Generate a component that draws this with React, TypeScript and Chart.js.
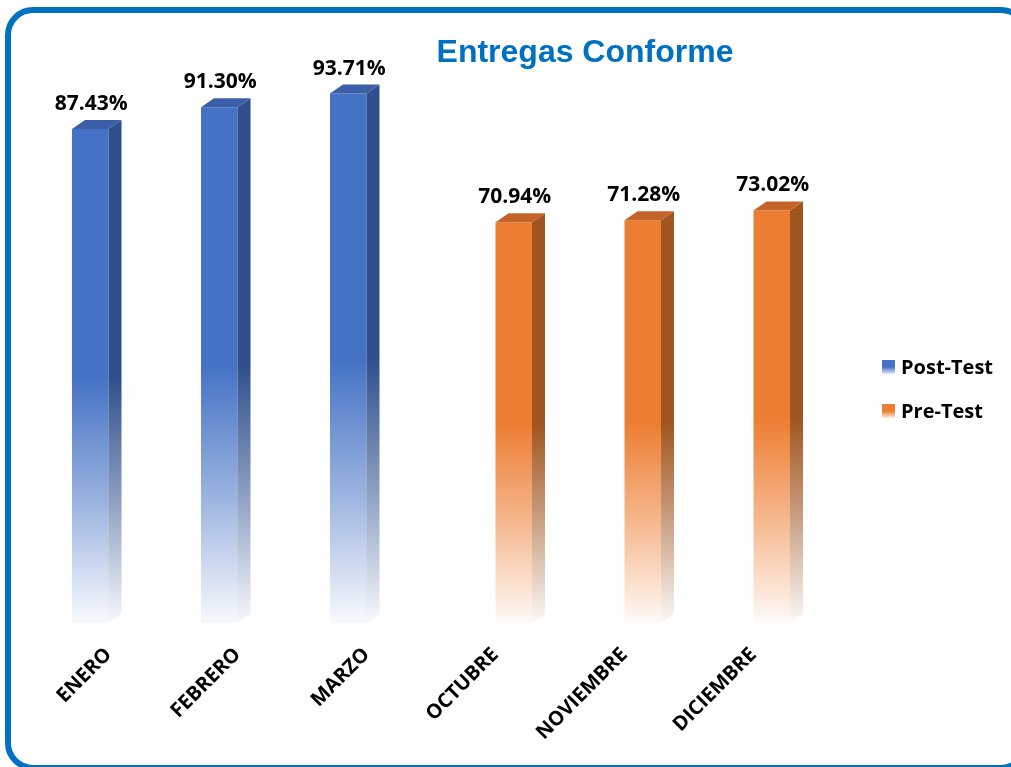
import React, { useEffect, useRef } from "react";
import { Chart, registerables } from "chart.js";

Chart.register(...registerables);

const categories = ["ENERO", "FEBRERO", "MARZO", "OCTUBRE", "NOVIEMBRE", "DICIEMBRE"];
const postTest = [87.43, 91.3, 93.71, null, null, null];
const preTest = [null, null, null, 70.94, 71.28, 73.02];
const seriesNames = ["Post-Test", "Pre-Test"];
const titleText = "Entregas Conforme";

const palette = [
  { front: "#4472C4", side: "#2F4F8C", top: "#3A5EA8", rgb: "68,114,196", sideRgb: "47,79,140" },
  { front: "#ED7D31", side: "#A0541F", top: "#C4642A", rgb: "237,125,49", sideRgb: "160,84,31" },
];

const DX = 13;
const DY = 9;
const FONT = "'Open Sans', 'Noto Sans', sans-serif";

function fadeGradient(c: CanvasRenderingContext2D, top: number, base: number, rgb: string) {
  const g = c.createLinearGradient(0, top, 0, base);
  g.addColorStop(0, `rgba(${rgb},1)`);
  g.addColorStop(0.5, `rgba(${rgb},1)`);
  g.addColorStop(0.75, `rgba(${rgb},0.55)`);
  g.addColorStop(0.96, `rgba(${rgb},0.12)`);
  g.addColorStop(1, `rgba(${rgb},0.04)`);
  return g;
}

const bar3d = {
  id: "bar3d",
  afterDatasetsDraw(chart: any) {
    const c: CanvasRenderingContext2D = chart.ctx;
    chart.data.datasets.forEach((ds: any, di: number) => {
      const meta = chart.getDatasetMeta(di);
      const pal = palette[di];
      meta.data.forEach((el: any, i: number) => {
        const v = ds.data[i];
        if (v == null) return;
        const { x, y, base, width } = el.getProps(["x", "y", "base", "width"], true);
        const L = x - width / 2;
        const R = x + width / 2;
        c.save();
        c.beginPath();
        c.moveTo(R, y);
        c.lineTo(R + DX, y - DY);
        c.lineTo(R + DX, base - DY);
        c.lineTo(R, base);
        c.closePath();
        c.fillStyle = fadeGradient(c, y, base, pal.sideRgb);
        c.fill();
        c.beginPath();
        c.moveTo(L, y);
        c.lineTo(R, y);
        c.lineTo(R + DX, y - DY);
        c.lineTo(L + DX, y - DY);
        c.closePath();
        c.fillStyle = pal.top;
        c.fill();
        c.fillStyle = "#000000";
        c.font = `bold 21px ${FONT}`;
        c.textAlign = "center";
        c.textBaseline = "alphabetic";
        c.fillText(v.toFixed(2) + "%", x + 1, y - 19);
        c.restore();
      });
    });
  },
};

const titleAndLegend = {
  id: "titleAndLegend",
  afterDraw(chart: any) {
    const c: CanvasRenderingContext2D = chart.ctx;
    c.save();
    c.fillStyle = "#0070C0";
    c.font = "bold 32px 'Liberation Sans', Arial, sans-serif";
    c.textAlign = "center";
    c.textBaseline = "alphabetic";
    c.fillText(titleText, 585, 62);

    const rows = [367, 411];
    chart.data.datasets.forEach((ds: any, di: number) => {
      const pal = palette[di];
      const cy = rows[di];
      const g = c.createLinearGradient(0, cy - 7, 0, cy + 7);
      g.addColorStop(0, `rgba(${pal.rgb},1)`);
      g.addColorStop(0.5, `rgba(${pal.rgb},1)`);
      g.addColorStop(1, `rgba(${pal.rgb},0.15)`);
      c.fillStyle = g;
      c.fillRect(882, cy - 7, 13, 14);
      c.fillStyle = "#000000";
      c.font = `bold 20px ${FONT}`;
      c.textAlign = "left";
      c.textBaseline = "middle";
      c.fillText(ds.label, 901, cy + 1);
    });
    c.restore();
  },
};

export default function App() {
  const ref = useRef<HTMLCanvasElement | null>(null);
  useEffect(() => {
    if (!ref.current) return;
    const mkBg = (di: number) => (ctx: any) => {
      const chart = ctx.chart;
      const pal = palette[di];
      if (!chart.chartArea || ctx.type !== "data" || ctx.raw == null) return pal.front;
      const top = chart.scales.y.getPixelForValue(ctx.raw);
      const base = chart.scales.y.getPixelForValue(0);
      return fadeGradient(chart.ctx, top, base, pal.rgb);
    };
    const chart = new Chart(ref.current, {
      type: "bar",
      data: {
        labels: categories,
        datasets: [
          { label: seriesNames[0], data: postTest, backgroundColor: mkBg(0), borderWidth: 0 },
          { label: seriesNames[1], data: preTest, backgroundColor: mkBg(1), borderWidth: 0 },
        ],
      },
      options: {
        animation: false,
        responsive: false,
        devicePixelRatio: 1,
        layout: { padding: { left: 44, right: 193, top: 58, bottom: 0 } },
        plugins: { legend: { display: false }, title: { display: false }, tooltip: { enabled: false } },
        datasets: { bar: { categoryPercentage: 0.566, barPercentage: 1 } },
        scales: {
          x: {
            grid: { display: false, drawTicks: false },
            border: { display: false },
            ticks: {
              color: "#000000",
              font: { family: FONT, weight: "bold", size: 20 },
              maxRotation: 45,
              minRotation: 45,
              autoSkip: false,
              padding: 20,
            },
            afterFit: (scale: any) => {
              scale.height = 144;
            },
          },
          y: { display: false, min: 0, max: 100 },
        },
      },
      plugins: [bar3d, titleAndLegend],
    } as any);
    return () => chart.destroy();
  }, []);

  return (
    <div style={{ position: "absolute", left: 0, top: 0, width: 1011, height: 767, overflow: "hidden", background: "#fff" }}>
      <canvas ref={ref} width={1011} height={767} style={{ position: "absolute", left: 0, top: 0, width: 1011, height: 767 }} />
      <div
        style={{
          position: "absolute",
          left: 5,
          top: 7,
          width: 1024,
          height: 764,
          border: "6px solid #0070C0",
          borderRadius: 28,
          boxSizing: "border-box",
          pointerEvents: "none",
        }}
      />
    </div>
  );
}
